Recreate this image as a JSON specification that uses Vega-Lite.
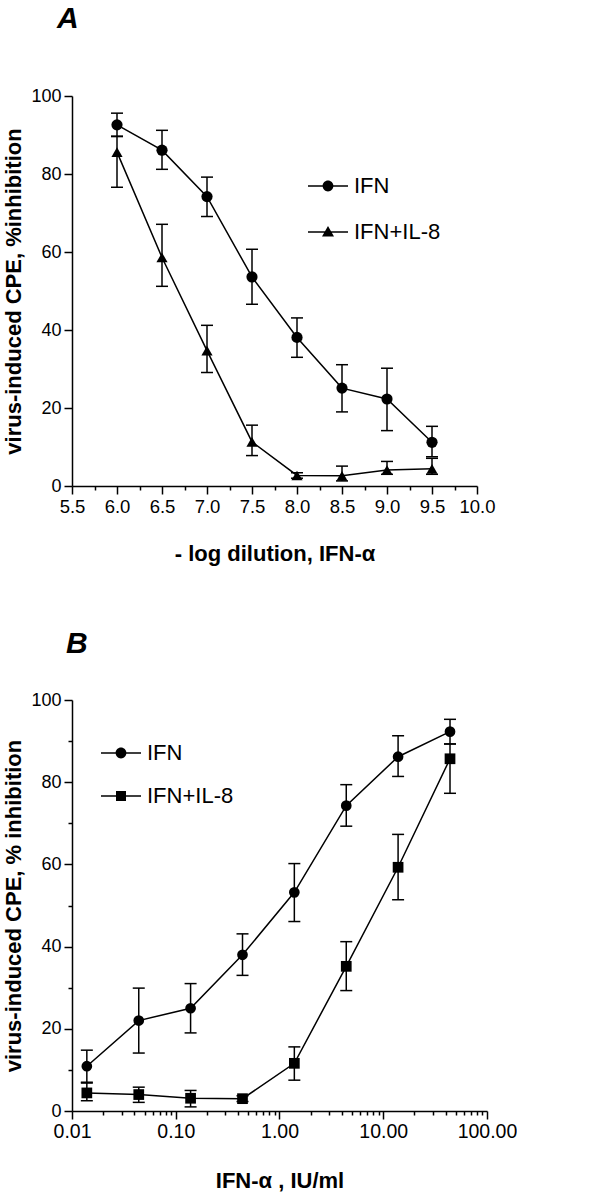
{
  "$schema": "https://vega.github.io/schema/vega-lite/v6.json",
  "padding": {"left": 2, "top": 4, "right": 0, "bottom": 0},
  "background": "white",
  "datasets": {
    "a": [
      {"x": 6.0, "s": "IFN", "v": 92.6, "lo": 89.6, "hi": 95.6},
      {"x": 6.5, "s": "IFN", "v": 86.1, "lo": 81.2, "hi": 91.2},
      {"x": 7.0, "s": "IFN", "v": 74.2, "lo": 69.1, "hi": 79.2},
      {"x": 7.5, "s": "IFN", "v": 53.6, "lo": 46.6, "hi": 60.7},
      {"x": 8.0, "s": "IFN", "v": 38.1, "lo": 33.0, "hi": 43.1},
      {"x": 8.5, "s": "IFN", "v": 25.1, "lo": 19.0, "hi": 31.1},
      {"x": 9.0, "s": "IFN", "v": 22.3, "lo": 14.2, "hi": 30.2},
      {"x": 9.5, "s": "IFN", "v": 11.2, "lo": 7.5, "hi": 15.3},
      {"x": 6.0, "s": "IFN+IL-8", "v": 85.6, "lo": 76.6, "hi": 89.7},
      {"x": 6.5, "s": "IFN+IL-8", "v": 58.6, "lo": 51.2, "hi": 67.1},
      {"x": 7.0, "s": "IFN+IL-8", "v": 34.7, "lo": 29.1, "hi": 41.2},
      {"x": 7.5, "s": "IFN+IL-8", "v": 11.3, "lo": 7.8, "hi": 15.6},
      {"x": 8.0, "s": "IFN+IL-8", "v": 2.7, "lo": 2.0, "hi": 3.4},
      {"x": 8.5, "s": "IFN+IL-8", "v": 2.6, "lo": 1.3, "hi": 5.1},
      {"x": 9.0, "s": "IFN+IL-8", "v": 4.1, "lo": 3.0, "hi": 6.3},
      {"x": 9.5, "s": "IFN+IL-8", "v": 4.4, "lo": 3.0, "hi": 7.1}
    ],
    "b": [
      {"c": 44, "s": "IFN", "v": 92.3, "lo": 89.3, "hi": 95.3},
      {"c": 13.9, "s": "IFN", "v": 86.2, "lo": 81.4, "hi": 91.3},
      {"c": 4.4, "s": "IFN", "v": 74.3, "lo": 69.3, "hi": 79.4},
      {"c": 1.39, "s": "IFN", "v": 53.2, "lo": 46.1, "hi": 60.2},
      {"c": 0.44, "s": "IFN", "v": 38.0, "lo": 33.0, "hi": 43.1},
      {"c": 0.139, "s": "IFN", "v": 25.0, "lo": 19.0, "hi": 31.0},
      {"c": 0.044, "s": "IFN", "v": 22.0, "lo": 14.1, "hi": 29.9},
      {"c": 0.0139, "s": "IFN", "v": 10.9, "lo": 7.0, "hi": 14.8},
      {"c": 44, "s": "IFN+IL-8", "v": 85.7, "lo": 77.3, "hi": 89.3},
      {"c": 13.9, "s": "IFN+IL-8", "v": 59.3, "lo": 51.4, "hi": 67.3},
      {"c": 4.4, "s": "IFN+IL-8", "v": 35.2, "lo": 29.3, "hi": 41.2},
      {"c": 1.39, "s": "IFN+IL-8", "v": 11.6, "lo": 7.5, "hi": 15.6},
      {"c": 0.44, "s": "IFN+IL-8", "v": 3.0, "lo": 2.3, "hi": 3.7},
      {"c": 0.139, "s": "IFN+IL-8", "v": 3.1, "lo": 1.0, "hi": 5.0},
      {"c": 0.044, "s": "IFN+IL-8", "v": 4.0, "lo": 2.1, "hi": 5.8},
      {"c": 0.0139, "s": "IFN+IL-8", "v": 4.4, "lo": 2.5, "hi": 6.8}
    ]
  },
  "spacing": 64,
  "resolve": {"scale": {"shape": "independent"}, "legend": {"shape": "independent"}},
  "vconcat": [
    {
      "width": 405,
      "height": 390,
      "data": {"name": "a"},
      "title": {"text": "A", "anchor": "start", "frame": "group", "dx": -15, "offset": 53, "fontSize": 30, "font": "Liberation Sans", "fontStyle": "italic", "fontWeight": "bold", "color": "black"},
      "encoding": {
        "x": {"field": "x", "type": "quantitative", "title": "- log dilution, IFN-α",
          "scale": {"domain": [5.5, 10], "nice": false, "zero": false},
          "axis": {"values": [5.5, 5.75, 6, 6.25, 6.5, 6.75, 7, 7.25, 7.5, 7.75, 8, 8.25, 8.5, 8.75, 9, 9.25, 9.5, 9.75, 10],
            "labelExpr": "(datum.value * 2) % 1 === 0 ? format(datum.value, '.1f') : ''",
            "tickSize": {"condition": {"test": "(datum.value * 2) % 1 === 0", "value": 8}, "value": 4},
            "labelFontSize": 18.5, "titlePadding": 28}}
      },
      "layer": [
        {"mark": {"type": "rule", "strokeWidth": 1.5, "color": "black"},
         "encoding": {"y": {"field": "lo", "type": "quantitative", "title": "virus-induced CPE, %inhibition"}, "y2": {"field": "hi"}}},
        {"mark": {"type": "tick", "orient": "horizontal", "size": 12, "thickness": 1.5, "color": "black", "opacity": 1},
         "encoding": {"y": {"field": "hi", "type": "quantitative", "title": "virus-induced CPE, %inhibition"}}},
        {"mark": {"type": "tick", "orient": "horizontal", "size": 12, "thickness": 1.5, "color": "black", "opacity": 1},
         "encoding": {"y": {"field": "lo", "type": "quantitative", "title": "virus-induced CPE, %inhibition"}}},
        {"mark": {"type": "line", "strokeWidth": 1.5, "color": "black"},
         "encoding": {"y": {"field": "v", "type": "quantitative", "title": "virus-induced CPE, %inhibition"}, "detail": {"field": "s"}}},
        {"mark": {"type": "point", "filled": true, "color": "black", "opacity": 1, "size": 125},
         "encoding": {
           "y": {"field": "v", "type": "quantitative", "title": "virus-induced CPE, %inhibition",
             "scale": {"domain": [0, 100], "nice": false},
             "axis": {"values": [0, 10, 20, 30, 40, 50, 60, 70, 80, 90, 100],
               "labelExpr": "datum.value % 20 === 0 ? datum.label : ''",
               "tickSize": {"condition": {"test": "datum.value % 20 === 0", "value": 8}, "value": 4},
               "titlePadding": 5}},
           "shape": {"condition": {"test": "datum.s === 'IFN'", "value": "circle"}, "value": "triangle-up"}}},
        {"transform": [{"filter": "datum.v > 1000"}],
         "mark": {"type": "point", "filled": true, "fill": "black", "opacity": 1},
         "encoding": {
           "shape": {"field": "s", "type": "nominal",
             "scale": {"domain": ["IFN", "IFN+IL-8"], "range": ["M-1,-0.04L1,-0.04L1,0.04L-1,0.04ZM-0.27,0A0.27,0.27,0,1,1,0.27,0A0.27,0.27,0,1,1,-0.27,0Z", "M-1,-0.04L1,-0.04L1,0.04L-1,0.04ZM0,-0.3L0.3,0.22L-0.3,0.22Z"]},
             "legend": {"orient": "none", "legendX": 235, "legendY": 69, "title": null, "labelFontSize": 22, "labelFont": "Liberation Sans", "labelColor": "black", "labelOffset": 5, "rowPadding": 14, "symbolSize": 1600,
               "symbolFillColor": "black", "symbolOpacity": 1}}}}
      ]
    },
    {
      "width": 415,
      "height": 411,
      "data": {"name": "b"},
      "title": {"text": "B", "anchor": "start", "frame": "group", "dx": -6, "offset": 32, "fontSize": 30, "font": "Liberation Sans", "fontStyle": "italic", "fontWeight": "bold", "color": "black"},
      "encoding": {
        "x": {"field": "c", "type": "quantitative", "title": "IFN-α , IU/ml",
          "scale": {"type": "log", "domain": [0.01, 100], "nice": false},
          "axis": {"values": [0.01, 0.02, 0.03, 0.04, 0.05, 0.06, 0.07, 0.08, 0.09, 0.1, 0.2, 0.3, 0.4, 0.5, 0.6, 0.7, 0.8, 0.9, 1, 2, 3, 4, 5, 6, 7, 8, 9, 10, 20, 30, 40, 50, 60, 70, 80, 90, 100],
            "labelExpr": "abs(log(datum.value) / LN10 - round(log(datum.value) / LN10)) < 0.001 ? format(datum.value, '.2f') : ''",
            "tickSize": {"condition": {"test": "abs(log(datum.value) / LN10 - round(log(datum.value) / LN10)) < 0.001", "value": 8}, "value": 4},
            "labelFontSize": 19.5, "titlePadding": 30}}
      },
      "layer": [
        {"mark": {"type": "rule", "strokeWidth": 1.5, "color": "black"},
         "encoding": {"y": {"field": "lo", "type": "quantitative", "title": "virus-induced CPE,  % inhibition"}, "y2": {"field": "hi"}}},
        {"mark": {"type": "tick", "orient": "horizontal", "size": 12, "thickness": 1.5, "color": "black", "opacity": 1},
         "encoding": {"y": {"field": "hi", "type": "quantitative", "title": "virus-induced CPE,  % inhibition"}}},
        {"mark": {"type": "tick", "orient": "horizontal", "size": 12, "thickness": 1.5, "color": "black", "opacity": 1},
         "encoding": {"y": {"field": "lo", "type": "quantitative", "title": "virus-induced CPE,  % inhibition"}}},
        {"mark": {"type": "line", "strokeWidth": 1.5, "color": "black"},
         "encoding": {"y": {"field": "v", "type": "quantitative", "title": "virus-induced CPE,  % inhibition"}, "detail": {"field": "s"}}},
        {"mark": {"type": "point", "filled": true, "color": "black", "opacity": 1, "size": 115},
         "encoding": {
           "y": {"field": "v", "type": "quantitative", "title": "virus-induced CPE,  % inhibition",
             "scale": {"domain": [0, 100], "nice": false},
             "axis": {"values": [0, 10, 20, 30, 40, 50, 60, 70, 80, 90, 100],
               "labelExpr": "datum.value % 20 === 0 ? datum.label : ''",
               "tickSize": {"condition": {"test": "datum.value % 20 === 0", "value": 8}, "value": 4},
               "titlePadding": 5}},
           "shape": {"condition": {"test": "datum.s === 'IFN'", "value": "circle"}, "value": "square"}}},
        {"transform": [{"filter": "datum.v > 1000"}],
         "mark": {"type": "point", "filled": true, "fill": "black", "opacity": 1},
         "encoding": {
           "shape": {"field": "s", "type": "nominal",
             "scale": {"domain": ["IFN", "IFN+IL-8"], "range": ["M-1,-0.04L1,-0.04L1,0.04L-1,0.04ZM-0.27,0A0.27,0.27,0,1,1,0.27,0A0.27,0.27,0,1,1,-0.27,0Z", "M-1,-0.04L1,-0.04L1,0.04L-1,0.04ZM-0.25,-0.25L0.25,-0.25L0.25,0.25L-0.25,0.25Z"]},
             "legend": {"orient": "none", "legendX": 28, "legendY": 32, "title": null, "labelFontSize": 22, "labelFont": "Liberation Sans", "labelColor": "black", "labelOffset": 5, "rowPadding": 11, "symbolSize": 1600,
               "symbolFillColor": "black", "symbolOpacity": 1}}}}
      ]
    }
  ],
  "config": {
    "view": {"stroke": null},
    "axis": {"grid": false, "domainColor": "black", "domainWidth": 1.5, "tickColor": "black", "tickWidth": 1.5,
      "labelColor": "black", "labelFont": "Liberation Sans", "labelFontSize": 18, "labelPadding": 3,
      "labelFlush": false, "labelOverlap": false,
      "titleColor": "black", "titleFont": "Liberation Sans", "titleFontWeight": "bold", "titleFontSize": 22}
  }
}
